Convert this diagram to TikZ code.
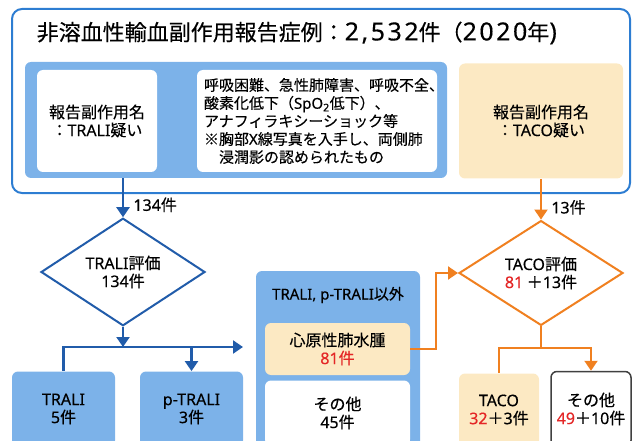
\documentclass[tikz,border=0pt]{standalone}
\usepackage{fontspec}
\setmainfont{Noto Sans CJK JP}[FakeBold=0.3]
\newfontfamily\latn{Noto Sans}[FakeBold=0.3]
\newfontfamily\bignum{Noto Sans}[FakeBold=0.3,LetterSpace=10]
\usetikzlibrary{arrows.meta,shapes.geometric}
\definecolor{lineblue}{RGB}{33,92,170}
\definecolor{frameblue}{RGB}{45,125,210}
\definecolor{fillblue}{RGB}{124,178,233}
\definecolor{lineorange}{RGB}{240,128,32}
\definecolor{fillyellow}{RGB}{252,233,195}
\definecolor{numred}{RGB}{228,38,38}

\begin{document}
\begin{tikzpicture}[x=1pt,y=-1pt,>={Triangle[length=10pt,width=13pt]},
  thick,every node/.style={font=\fontsize{16}{18}\selectfont},
  box/.style={rectangle,rounded corners=6pt,inner sep=0pt,align=center},
  blue box/.style={box,fill=fillblue},
  white box/.style={box,fill=white},
  yellow box/.style={box,fill=fillyellow},
  blue arrow/.style={draw=lineblue,line width=2.2pt},
  orange arrow/.style={draw=lineorange,line width=2pt},
  check node/.style={diamond,draw,line width=2pt,fill=white,inner sep=0pt,align=center,
    minimum width=164pt,minimum height=77pt}]

  \clip (0,0) rectangle (632,441);

  \node[box,draw=frameblue,line width=2pt,rounded corners=10pt,minimum width=618pt,minimum height=184pt] (1) at (321,101) {};
  \node[anchor=west,font=\fontsize{22}{26}\selectfont] (2) at (33,33)
    {非溶血性輸血副作用報告症例：{\fontsize{25}{26}\bignum 2,532}件（{\fontsize{25}{26}\bignum 2020}年{\fontsize{25}{26}\latn)}};

  \node[blue box,minimum width=422pt,minimum height=116pt] (3) at (236,120) {};
  \node[white box,minimum width=120pt,minimum height=102pt] (4) at (97,121) {報告副作用名\\：{\latn TRALI}疑い};
  \node[white box,align=left,text width=226pt,inner xsep=7pt,minimum height=102pt,
    font=\fontsize{15}{18}\selectfont] (5) at (317,121)
    {呼吸困難、急性肺障害、呼吸不全、\\酸素化低下（{\latn SpO\textsubscript{2}}低下）、\\アナフィラキシーショック等\\※胸部{\latn X}線写真を入手し、両側肺\\　浸潤影の認められたもの};
  \node[yellow box,minimum width=164pt,minimum height=115pt] (6) at (541,121) {報告副作用名\\：{\latn TACO}疑い};

  % TRALI side
  \node[check node,draw=lineblue] (7) at (123,272) {{\latn TRALI}評価\\{\latn 134}件};
  \node[blue box,minimum width=103pt,minimum height=75pt] (8) at (63.5,409) {{\latn TRALI}\\{\latn 5}件};
  \node[blue box,minimum width=103pt,minimum height=75pt] (9) at (191.5,409) {{\latn p-TRALI}\\{\latn 3}件};

  \node[blue box,minimum width=164pt,minimum height=177pt] (10) at (338,359.5) {};
  \node[font=\fontsize{15}{17}\selectfont] (11) at (338,295) {{\latn TRALI, p-TRALI}以外};
  \node[yellow box,minimum width=145pt,minimum height=52pt] (12) at (337.5,349) {心原性肺水腫\\{\color{numred}{\latn 81}件}};
  \node[white box,minimum width=145pt,minimum height=65pt] (13) at (337.5,413) {その他\\{\latn 45}件};

  % TACO side
  \node[check node,draw=lineorange] (14) at (541,273) {{\latn TACO}評価\\{\color{numred}\latn 81}~＋{\latn 13}件};
  \node[yellow box,minimum width=80pt,minimum height=73pt] (15) at (499,410) {{\latn TACO}\\{\color{numred}\latn 32}＋{\latn 3}件};
  \node[white box,draw=black!75,line width=1.5pt,minimum width=80pt,minimum height=75pt] (16) at (591,409) {その他\\{\color{numred}\latn 49}＋{\latn 10}件};

  \coordinate (j1) at (123,347);
  \coordinate (j2) at (243,347);
  \coordinate (j3) at (541,348);

  \draw[blue arrow,->] (3.south -| 7.north) -- node[right=6pt,pos=0.68] {{\latn 134}件} (7.north);
  \draw[blue arrow,->] (7.south) -- (j1);
  \draw[blue arrow,->] (8.north) |- (j2);
  \draw[blue arrow,->] (9.north |- j1) -- (9.north);

  \draw[orange arrow,->] (6.south) -- node[right=6pt,pos=0.7] {{\latn 13}件} (14.north);
  \draw[orange arrow,->] (12.east) -- ++(26,0) |- (14.west);
  \draw[orange arrow] (14.south) -- (j3);
  \draw[orange arrow,->] (15.north) |- (j3) -| (16.north);

\end{tikzpicture}
\end{document}
